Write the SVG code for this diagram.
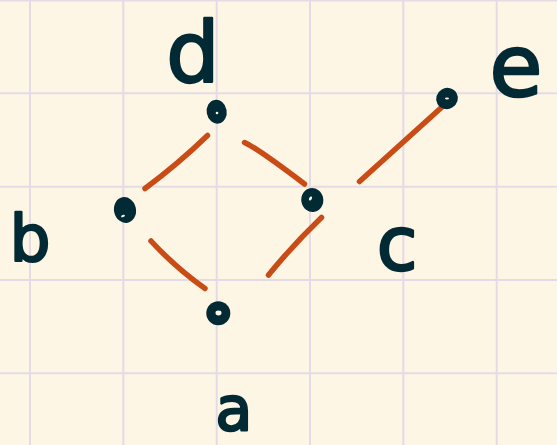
<svg xmlns="http://www.w3.org/2000/svg" width="557" height="445" viewBox="0 0 557 445">
<defs>
<style>
.grid line{stroke:#e4dbe6;stroke-width:2}
.edge{fill:none;stroke:#c94c17;stroke-width:5.5;stroke-linecap:round}
.dot{fill:#022a35}
.hl{fill:#fdf6e3}
.lbl{font-family:"DejaVu Sans",sans-serif;fill:#022a35;stroke:#022a35;stroke-width:2.5;stroke-linejoin:round;text-anchor:middle}
</style>
</defs>
<rect width="557" height="445" fill="#fdf6e4"/>
<g class="grid">
<line x1="30" y1="0" x2="30" y2="445"/>
<line x1="123.3" y1="0" x2="123.3" y2="445"/>
<line x1="216.7" y1="0" x2="216.7" y2="445"/>
<line x1="310" y1="0" x2="310" y2="445"/>
<line x1="403.3" y1="0" x2="403.3" y2="445"/>
<line x1="496.7" y1="0" x2="496.7" y2="445"/>
<line x1="0" y1="0.5" x2="557" y2="0.5"/>
<line x1="0" y1="93.3" x2="557" y2="93.3"/>
<line x1="0" y1="186.7" x2="557" y2="186.7"/>
<line x1="0" y1="280" x2="557" y2="280"/>
<line x1="0" y1="373.3" x2="557" y2="373.3"/>
</g>
<g id="connectors">
<path class="edge" d="M145,188.5 Q178,164 207.5,135.5"/>
<path class="edge" d="M244.5,142.5 Q257,148 304.5,184"/>
<path class="edge" d="M151,241 Q176,268 205,288.5"/>
<path class="edge" d="M321.5,217.5 Q292,246 268.5,275"/>
<path class="edge" d="M359.5,181.5 L442,107"/>
</g>
<g id="node-d"><ellipse class="dot" cx="216.7" cy="111.7" rx="10" ry="12" transform="rotate(-10 216.7 111.7)"/><circle class="hl" cx="217" cy="113" r="1.3"/></g>
<g id="node-b"><ellipse class="dot" cx="125" cy="210" rx="11" ry="13" transform="rotate(-12 125 210)"/><ellipse class="hl" cx="123" cy="216" rx="2" ry="1" transform="rotate(-20 123 216)"/></g>
<g id="node-c"><ellipse class="dot" cx="312.3" cy="200" rx="11" ry="12" transform="rotate(-10 312.3 200)"/><ellipse class="hl" cx="310.5" cy="198.5" rx="1.3" ry="2.2" transform="rotate(30 310.5 198.5)"/></g>
<g id="node-e"><ellipse class="dot" cx="447" cy="98.5" rx="11" ry="10.5" transform="rotate(-30 447 98.5)"/><ellipse class="hl" cx="447" cy="98.5" rx="2" ry="1"/></g>
<g id="node-a"><circle class="dot" cx="218.3" cy="313.3" r="12"/><ellipse class="hl" cx="218.5" cy="313" rx="3" ry="2.4"/></g>
<g id="labels">
<text class="lbl" x="193" y="82" font-size="84">d</text>
<text class="lbl" x="30" y="261" font-size="64">b</text>
<text class="lbl" x="397" y="270" font-size="74">c</text>
<text class="lbl" x="516" y="96" font-size="86">e</text>
<text class="lbl" x="234" y="430" font-size="60">a</text>
</g>
</svg>
